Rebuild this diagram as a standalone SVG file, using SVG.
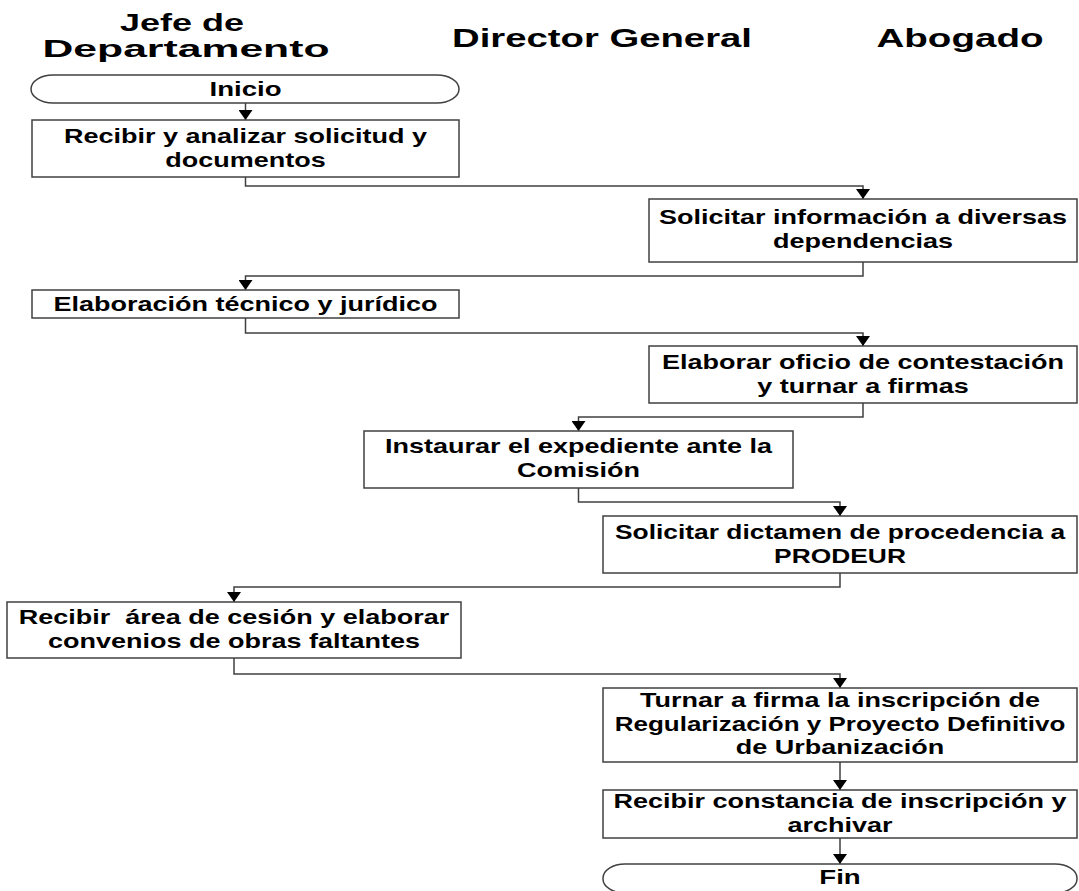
<svg xmlns="http://www.w3.org/2000/svg" width="1079" height="891" viewBox="0 0 1079 891">
<style>
  .box { fill: #ffffff; stroke: #404040; stroke-width: 1.5; }
  .t { font-family: "Liberation Sans", Arial, sans-serif; font-weight: bold; font-size: 20px; fill: #000; text-anchor: middle; }
  .h { font-family: "Liberation Sans", Arial, sans-serif; font-weight: bold; font-size: 25px; fill: #000; text-anchor: middle; }
  .h2 { font-family: "Liberation Sans", Arial, sans-serif; font-weight: bold; font-size: 23px; fill: #000; text-anchor: middle; }
  .c { fill: none; stroke: #404040; stroke-width: 1.5; marker-end: url(#arr); }
</style>
<defs>
  <marker id="arr" markerUnits="userSpaceOnUse" viewBox="0 0 10 14" refX="10" refY="7" markerWidth="10" markerHeight="14" orient="auto">
    <path d="M0,0 L10,7 L0,14 Z" fill="#000"/>
  </marker>
</defs>
<rect width="1079" height="891" fill="#fff"/>

<g id="headers">
  <text class="h2" x="182" y="31" textLength="124" lengthAdjust="spacingAndGlyphs">Jefe de</text>
  <text class="h2" x="186" y="57" textLength="287" lengthAdjust="spacingAndGlyphs">Departamento</text>
  <text class="h" x="602" y="47" textLength="300" lengthAdjust="spacingAndGlyphs">Director General</text>
  <text class="h" x="960" y="47" textLength="167" lengthAdjust="spacingAndGlyphs">Abogado</text>
</g>

<g id="connectors">
  <path class="c" d="M245.5,103 V120"/>
  <path class="c" d="M245.5,177 V186 H863 V199"/>
  <path class="c" d="M863,262 V276 H245.5 V290"/>
  <path class="c" d="M245.5,318 V333 H863 V346"/>
  <path class="c" d="M863,403 V417 H578.5 V431"/>
  <path class="c" d="M578.5,488 V502 H840 V516"/>
  <path class="c" d="M840,573 V587 H234 V602"/>
  <path class="c" d="M234,658 V674 H840 V688"/>
  <path class="c" d="M840,762 V790"/>
  <path class="c" d="M840,838 V864"/>
</g>

<g id="inicio">
  <rect class="box" x="31" y="75" width="428" height="28" rx="22" ry="14"/>
  <g transform="translate(245.5 0) scale(1.38 1)"><text class="t" x="0" y="96">Inicio</text></g>
</g>

<g id="n1">
  <rect class="box" x="32" y="120" width="427" height="57"/>
  <g transform="translate(245.5 0) scale(1.35 1)">
    <text class="t" x="0" y="143">Recibir y analizar solicitud y</text>
    <text class="t" x="0" y="167">documentos</text>
  </g>
</g>

<g id="n2">
  <rect class="box" x="649" y="199" width="428" height="63"/>
  <g transform="translate(863 0) scale(1.35 1)">
    <text class="t" x="0" y="224">Solicitar información a diversas</text>
    <text class="t" x="0" y="248">dependencias</text>
  </g>
</g>

<g id="n3">
  <rect class="box" x="32" y="290" width="427" height="28"/>
  <g transform="translate(245.5 0) scale(1.35 1)">
    <text class="t" x="0" y="311">Elaboración técnico y jurídico</text>
  </g>
</g>

<g id="n4">
  <rect class="box" x="649" y="346" width="428" height="57"/>
  <g transform="translate(863 0) scale(1.35 1)">
    <text class="t" x="0" y="369">Elaborar oficio de contestación</text>
    <text class="t" x="0" y="393">y turnar a firmas</text>
  </g>
</g>

<g id="n5">
  <rect class="box" x="364" y="431" width="429" height="57"/>
  <g transform="translate(578.5 0) scale(1.35 1)">
    <text class="t" x="0" y="453">Instaurar el expediente ante la</text>
    <text class="t" x="0" y="477">Comisión</text>
  </g>
</g>

<g id="n6">
  <rect class="box" x="603" y="516" width="474" height="57"/>
  <g transform="translate(840 0) scale(1.32 1)">
    <text class="t" x="0" y="539">Solicitar dictamen de procedencia a</text>
    <text class="t" x="0" y="563">PRODEUR</text>
  </g>
</g>

<g id="n7">
  <rect class="box" x="7" y="602" width="454" height="56"/>
  <g transform="translate(234 0) scale(1.35 1)">
    <text class="t" x="0" y="624" xml:space="preserve">Recibir  área de cesión y elaborar</text>
    <text class="t" x="0" y="648">convenios de obras faltantes</text>
  </g>
</g>

<g id="n8">
  <rect class="box" x="603" y="688" width="474" height="74"/>
  <g transform="translate(840 0) scale(1.35 1)">
    <text class="t" x="0" y="707">Turnar a firma la inscripción de</text>
  </g>
  <g transform="translate(840 0) scale(1.30 1)">
    <text class="t" x="0" y="731">Regularización y Proyecto Definitivo</text>
  </g>
  <g transform="translate(840 0) scale(1.35 1)">
    <text class="t" x="0" y="754">de Urbanización</text>
  </g>
</g>

<g id="n9">
  <rect class="box" x="603" y="790" width="474" height="48"/>
  <g transform="translate(840 0) scale(1.35 1)">
    <text class="t" x="0" y="808">Recibir constancia de inscripción y</text>
    <text class="t" x="0" y="832">archivar</text>
  </g>
</g>

<g id="fin">
  <rect class="box" x="603" y="864" width="474" height="29" rx="22" ry="14"/>
  <g transform="translate(840 0) scale(1.38 1)"><text class="t" x="0" y="884">Fin</text></g>
</g>
</svg>
